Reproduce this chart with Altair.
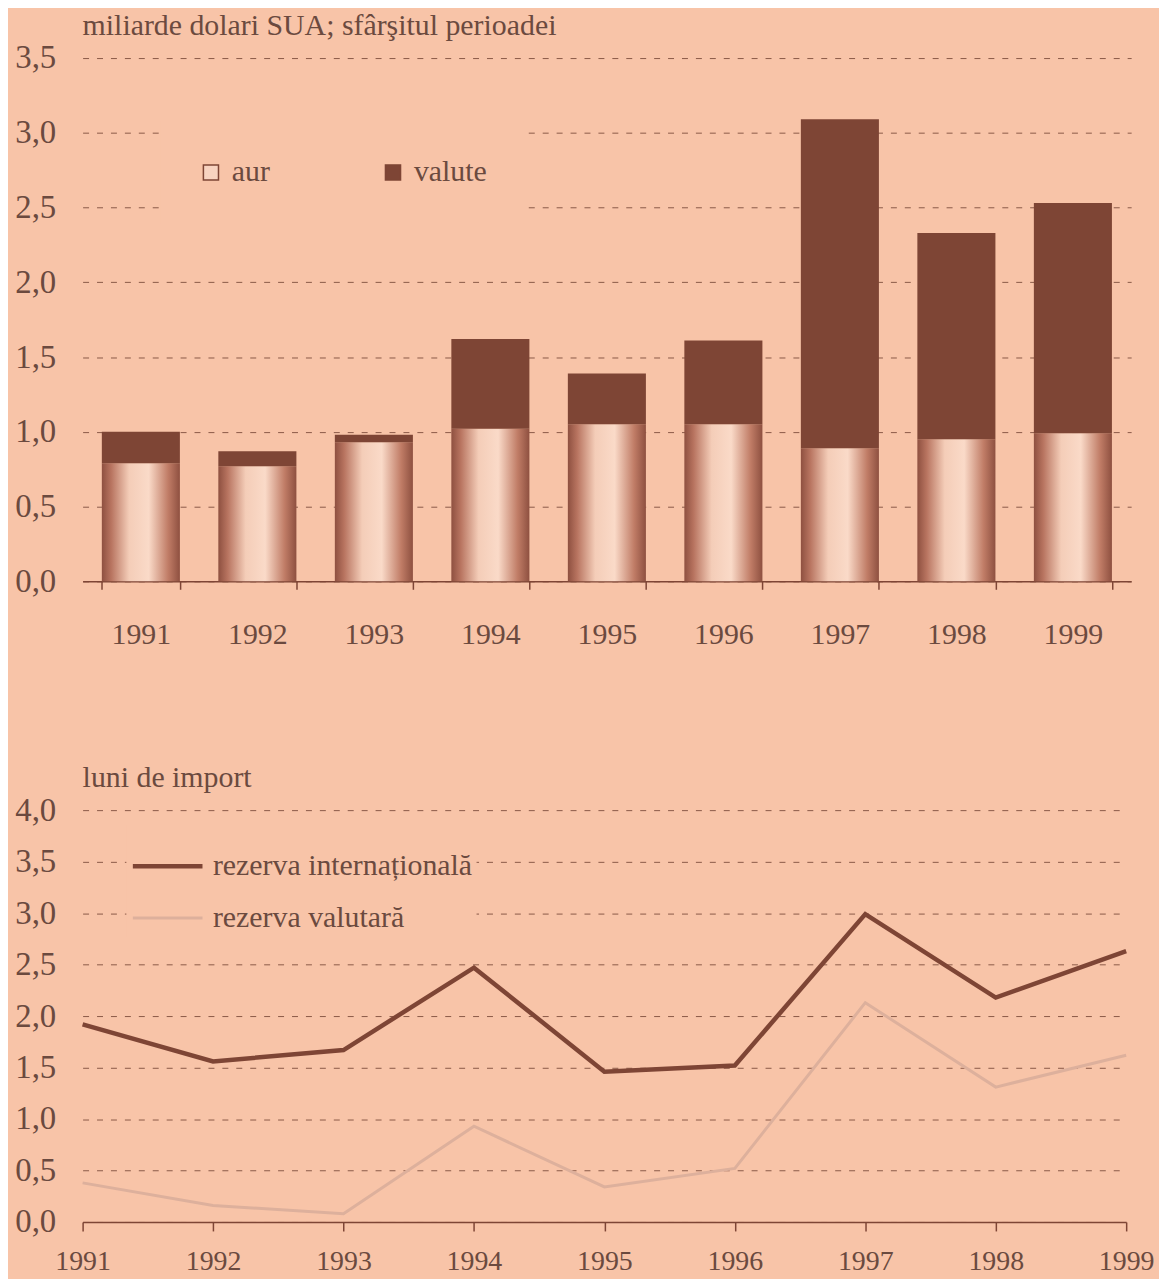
import altair as alt
import pandas as pd

# ---- data ----
years = ["1991", "1992", "1993", "1994", "1995", "1996", "1997", "1998", "1999"]
aur = [0.79, 0.77, 0.93, 1.02, 1.05, 1.05, 0.89, 0.95, 0.99]
valute = [0.21, 0.10, 0.05, 0.60, 0.34, 0.56, 2.20, 1.38, 1.54]

rez_internationala = [1.92, 1.56, 1.67, 2.47, 1.46, 1.52, 2.99, 2.18, 2.63]
rez_valutara = [0.38, 0.16, 0.08, 0.93, 0.34, 0.52, 2.13, 1.31, 1.62]

bar_legend = ["aur", "valute"]
line_legend = ["rezerva internațională", "rezerva valutară"]

title_top = "miliarde dolari SUA; sfârşitul perioadei"
title_bottom = "luni de import"

# ---- style ----
BG = "#F8C4A8"
TXT = "#6B4A3F"
DARK = "#7E4535"
LIGHTLINE = "#DDB09C"
GRID = "#8A5A48"
FONT = "Liberation Serif"

bars = pd.DataFrame({
    "year": years,
    "aur": aur,
    "valute": valute,
})
bars["total"] = bars["aur"] + bars["valute"]

lines = pd.DataFrame({
    "year": years * 2,
    "series": [line_legend[0]] * len(years) + [line_legend[1]] * len(years),
    "value": rez_internationala + rez_valutara,
})

comma_fmt = "replace(format(datum.value, '.1f'), '.', ',')"

gold_fill = alt.Gradient(
    gradient="linear",
    x1=0, x2=1, y1=0, y2=0,
    stops=[
        alt.GradientStop(offset=0.0, color="#8E5040"),
        alt.GradientStop(offset=0.12, color="#B87460"),
        alt.GradientStop(offset=0.35, color="#F4CDB8"),
        alt.GradientStop(offset=0.6, color="#FADAC8"),
        alt.GradientStop(offset=0.85, color="#C07C66"),
        alt.GradientStop(offset=1.0, color="#8E5040"),
    ],
)

x_top = alt.X(
    "year:N",
    sort=years,
    scale=alt.Scale(paddingInner=0.33, paddingOuter=0.165),
    axis=alt.Axis(
        title=None, labelAngle=0, tickBand="extent", tickSize=8,
        labelPadding=30, labelFontSize=30, grid=False,
        domainColor=DARK, tickColor=DARK, domainWidth=1.5, tickWidth=1.5,
    ),
)
y_top_axis = alt.Axis(
    title=None, values=[0, 0.5, 1, 1.5, 2, 2.5, 3, 3.5], labelExpr=comma_fmt,
    ticks=False, domain=False, labelPadding=27, labelFontSize=33,
    grid=True, gridColor=GRID, gridDash=[6, 8], gridWidth=1,
)

base_top = alt.Chart(bars)

aur_layer = base_top.mark_bar(fill=gold_fill).encode(
    x=x_top,
    y=alt.Y("aur:Q", scale=alt.Scale(domain=[0, 3.5], nice=False), axis=y_top_axis),
)
val_layer = base_top.mark_bar(fill=DARK).encode(
    x=x_top,
    y=alt.Y("aur:Q"),
    y2="total:Q",
)
bar_leg_layer = base_top.mark_square(stroke=DARK, strokeWidth=1.5).encode(
    x=x_top,
    y=alt.Y("aur:Q"),
    color=alt.Color(
        "legend_key:N",
        scale=alt.Scale(domain=bar_legend, range=["#F8D3C0", DARK]),
        legend=alt.Legend(
            title=None, orient="none", legendX=78, legendY=64,
            direction="horizontal", fillColor=BG, padding=36,
            symbolType="square", symbolSize=230, symbolStrokeColor=DARK,
            symbolStrokeWidth=1.5, labelFontSize=30, labelOffset=6,
            columnPadding=108, symbolOpacity=1,
        ),
    ),
).transform_calculate(legend_key="'aur'").transform_filter("false")

top = alt.layer(aur_layer, val_layer, bar_leg_layer).properties(
    width=1054, height=526,
    title=alt.TitleParams(title_top, anchor="start", fontSize=30, font=FONT,
                          color=TXT, fontWeight="normal", offset=1, frame="group"),
)

x_bot = alt.X(
    "year:N",
    sort=years,
    scale=alt.Scale(type="point", padding=0),
    axis=alt.Axis(
        title=None, labelAngle=0, tickSize=9, labelPadding=17,
        labelFontSize=28, grid=False,
        domainColor=DARK, tickColor=DARK, domainWidth=1.5, tickWidth=1.5,
    ),
)
y_bot = alt.Y(
    "value:Q",
    scale=alt.Scale(domain=[0, 4], nice=False),
    axis=alt.Axis(
        title=None, values=[0, 0.5, 1, 1.5, 2, 2.5, 3, 3.5, 4], labelExpr=comma_fmt,
        ticks=False, domain=False, labelPadding=27, labelFontSize=33,
        grid=True, gridColor=GRID, gridDash=[6, 8], gridWidth=1,
    ),
)

line_leg = alt.Legend(
    title=None, orient="none", legendX=44, legendY=15,
    direction="vertical", fillColor=BG, padding=4,
    symbolType="stroke", symbolSize=4900, labelFontSize=30,
    labelOffset=8, rowPadding=-15,
)

bottom = alt.Chart(lines).mark_line().encode(
    x=x_bot,
    y=y_bot,
    color=alt.Color(
        "series:N",
        scale=alt.Scale(domain=line_legend, range=[DARK, LIGHTLINE]),
        legend=line_leg,
    ),
    strokeWidth=alt.StrokeWidth(
        "series:N",
        scale=alt.Scale(domain=line_legend, range=[4.5, 3]),
        legend=line_leg,
    ),
).properties(
    width=1049, height=414,
    title=alt.TitleParams(title_bottom, anchor="start", fontSize=30, font=FONT,
                          color=TXT, fontWeight="normal", offset=1, frame="group"),
)

chart = alt.vconcat(top, bottom, spacing=115).resolve_scale(
    color="independent", strokeWidth="independent"
).resolve_legend(
    color="independent", strokeWidth="independent"
).properties(
    background=BG,
    padding={"left": 6, "top": 0, "right": 5, "bottom": 0},
).configure_view(stroke=None).configure_axis(
    labelFont=FONT, labelColor=TXT,
).configure_legend(
    labelFont=FONT, labelColor=TXT, labelLimit=400,
).configure_text(font=FONT)

chart.save("out.html", embed_options={"renderer": "svg", "actions": False})
